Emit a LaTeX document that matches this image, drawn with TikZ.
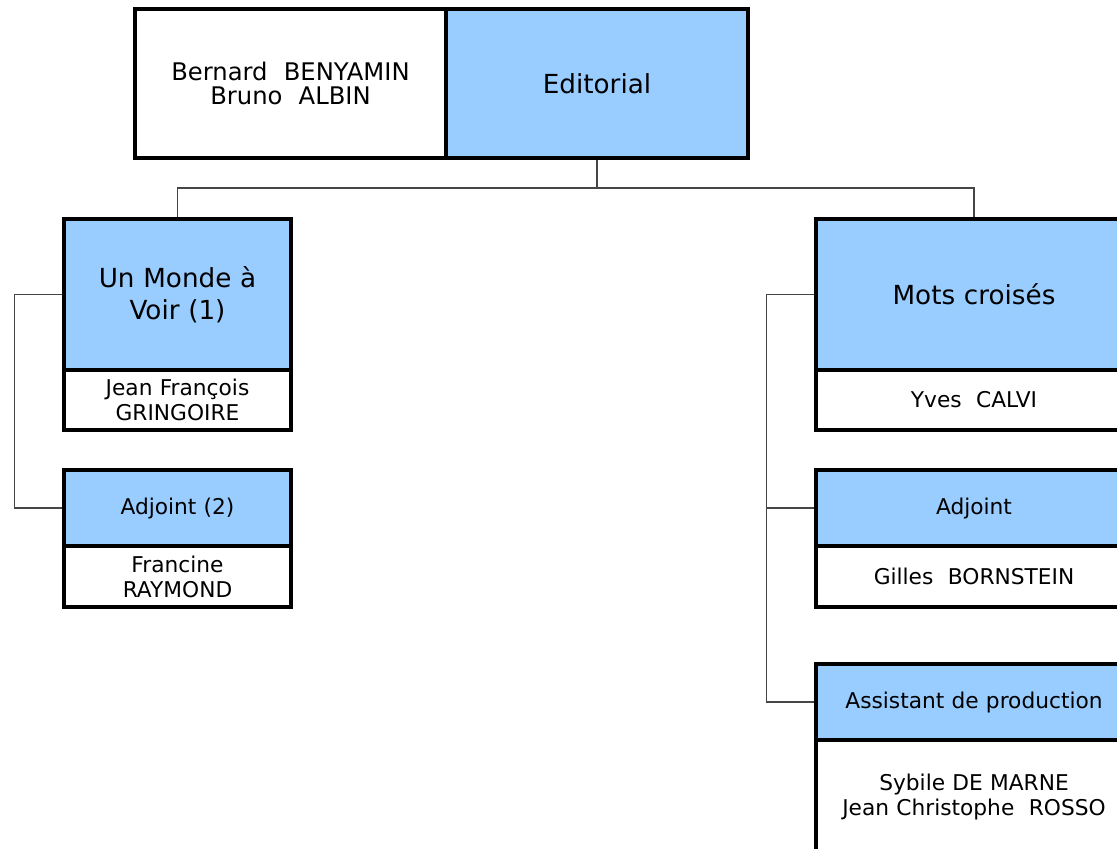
\documentclass[tikz,border=0pt]{standalone}
\usepackage{fontspec}
\setmainfont{DejaVu Sans}
\usetikzlibrary{positioning, calc}
\definecolor{head}{RGB}{153,204,255}
\definecolor{wire}{RGB}{70,70,70}

\begin{document}
\begin{tikzpicture}[
      x=0.709pt, y=-0.709pt,
      box/.style={rectangle, draw=black, line width=2.2pt, inner sep=2pt,
                  align=center, text width=#1},
      box/.default=200pt,
      big/.style={font=\fontsize{18.6}{22.5}\selectfont},
      small/.style={font=\fontsize{15.4}{17.7}\selectfont},
      wire/.style={draw=wire, line width=0.75pt}
    ]
    \useasboundingbox (0,0) rectangle (1117,848);
    % top
    \node[box=210pt, fill=white, minimum width=311*0.709pt, minimum height=149*0.709pt,
          font=\fontsize{17.2}{16.8}\selectfont] (chefs) at (290.5,83.5)
      {Bernard~ BENYAMIN\\Bruno~ ALBIN};
    \node[box=200pt, fill=head, big, minimum width=302*0.709pt, minimum height=149*0.709pt]
      (edito) at (597,83.5) {Editorial};
    % left column
    \node[box=155pt, fill=head, big, minimum width=227*0.709pt, minimum height=151*0.709pt]
      (monde) at (177.5,294.5) {Un Monde à\\Voir (1)};
    \node[box=155pt, fill=white, small, minimum width=227*0.709pt, minimum height=60*0.709pt]
      (gringoire) at (177.5,400) {Jean François\\GRINGOIRE};
    \node[box=155pt, fill=head, small, minimum width=227*0.709pt, minimum height=76*0.709pt]
      (adjA) at (177.5,508) {Adjoint (2)};
    \node[box=155pt, fill=white, small, minimum width=227*0.709pt, minimum height=61*0.709pt]
      (raymond) at (177.5,576.5) {Francine\\RAYMOND};
    % right column
    \node[box=215pt, fill=head, big, minimum width=316*0.709pt, minimum height=151*0.709pt]
      (mots) at (974,294.5) {Mots croisés};
    \node[box=215pt, fill=white, small, minimum width=316*0.709pt, minimum height=60*0.709pt]
      (calvi) at (974,400) {Yves~ CALVI};
    \node[box=215pt, fill=head, small, minimum width=316*0.709pt, minimum height=76*0.709pt]
      (adjB) at (974,508) {Adjoint};
    \node[box=215pt, fill=white, small, minimum width=316*0.709pt, minimum height=61*0.709pt]
      (bornstein) at (974,576.5) {Gilles~ BORNSTEIN};
    \node[box=215pt, fill=head, small, minimum width=316*0.709pt, minimum height=76*0.709pt]
      (asst) at (974,702) {Assistant de production};
    \node[box=215pt, fill=white, small, minimum width=316*0.709pt, minimum height=114*0.709pt]
      (prod) at (974,797) {Sybile DE MARNE\\Jean Christophe~ ROSSO};
    % connectors
    \coordinate (bus) at (597,188);
    \draw[wire] (edito.south) -- (bus);
    \draw[wire] (bus) -| (monde.north);
    \draw[wire] (bus) -| (mots.north);
    \draw[wire] (monde.west) -- ++(-48,0) |- (adjA.west);
    \draw[wire] (mots.west) -- ++(-48,0) |- (adjB.west);
    \draw[wire] (mots.west) -- ++(-48,0) |- (asst.west);
  \end{tikzpicture}
\end{document}
